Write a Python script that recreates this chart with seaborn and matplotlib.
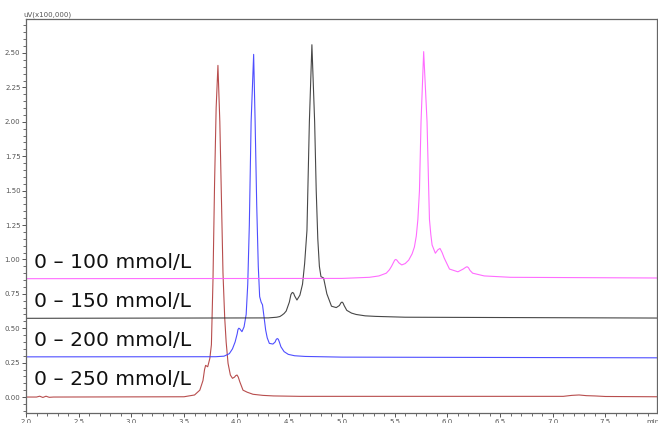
import matplotlib
matplotlib.use("Agg")
import matplotlib.pyplot as plt
import seaborn as sns
import pandas as pd
from matplotlib.ticker import MultipleLocator

# retention time (min) / signal (uV x100,000)
t_250 = [2.00, 2.10, 2.13, 2.16, 2.19, 2.22, 2.26, 3.50, 3.60, 3.65, 3.68, 3.695, 3.705,
         3.715, 3.725, 3.745, 3.76, 3.775, 3.79, 3.805, 3.822, 3.84, 3.855, 3.87, 3.886,
         3.90, 3.918, 3.94, 3.96, 3.98, 3.99, 4.003, 4.015, 4.03, 4.06, 4.10, 4.155, 4.25,
         4.35, 4.60, 7.10, 7.18, 7.25, 7.32, 7.40, 7.50, 7.99]
s_250 = [0.000, 0.000, 0.006, -0.003, 0.006, -0.002, 0.000, 0.002, 0.015, 0.05, 0.12, 0.20,
         0.23, 0.225, 0.22, 0.28, 0.38, 0.85, 1.55, 2.10, 2.41, 2.00, 1.45, 0.90, 0.58,
         0.40, 0.245, 0.16, 0.136, 0.145, 0.155, 0.16, 0.145, 0.11, 0.05, 0.035, 0.02,
         0.012, 0.008, 0.005, 0.005, 0.012, 0.015, 0.010, 0.008, 0.004, 0.002]

t_200 = [2.00, 3.80, 3.88, 3.93, 3.96, 3.985, 4.005, 4.012, 4.02, 4.028, 4.035, 4.05, 4.07,
         4.09, 4.105, 4.12, 4.137, 4.161, 4.175, 4.19, 4.205, 4.218, 4.232, 4.245, 4.26,
         4.275, 4.29, 4.31, 4.344, 4.365, 4.375, 4.385, 4.395, 4.405, 4.42, 4.45, 4.49,
         4.55, 4.65, 5.00, 7.99]
s_200 = [0.292, 0.293, 0.297, 0.315, 0.35, 0.40, 0.46, 0.49, 0.50, 0.497, 0.49, 0.475, 0.51,
         0.60, 0.82, 1.25, 2.00, 2.49, 2.00, 1.40, 0.95, 0.73, 0.69, 0.67, 0.58, 0.487,
         0.43, 0.39, 0.385, 0.40, 0.418, 0.425, 0.42, 0.40, 0.365, 0.33, 0.31, 0.30,
         0.295, 0.29, 0.285]

t_150 = [2.00, 4.30, 4.38, 4.41, 4.43, 4.45, 4.47, 4.50, 4.515, 4.528, 4.54, 4.55, 4.572,
         4.60, 4.625, 4.645, 4.667, 4.69, 4.714, 4.74, 4.755, 4.77, 4.785, 4.80, 4.825,
         4.856, 4.90, 4.945, 4.975, 4.99, 5.00, 5.01, 5.02, 5.045, 5.09, 5.134, 5.22,
         5.32, 5.60, 7.99]
s_150 = [0.572, 0.575, 0.58, 0.585, 0.595, 0.607, 0.625, 0.69, 0.745, 0.76, 0.755, 0.735,
         0.705, 0.74, 0.82, 0.97, 1.21, 2.00, 2.56, 2.00, 1.50, 1.15, 0.95, 0.875, 0.865,
         0.75, 0.66, 0.65, 0.665, 0.685, 0.69, 0.683, 0.665, 0.63, 0.61, 0.60, 0.59,
         0.586, 0.58, 0.574]

t_100 = [2.00, 5.00, 5.26, 5.35, 5.42, 5.45, 5.47, 5.50, 5.51, 5.52, 5.54, 5.567, 5.60,
         5.633, 5.665, 5.687, 5.705, 5.72, 5.735, 5.75, 5.775, 5.807, 5.823, 5.83, 5.843,
         5.855, 5.886, 5.91, 5.93, 5.95, 5.97, 6.02, 6.10, 6.15, 6.175, 6.187, 6.20,
         6.215, 6.24, 6.35, 6.60, 7.99]
s_100 = [0.860, 0.862, 0.87, 0.88, 0.90, 0.925, 0.95, 0.995, 1.00, 0.995, 0.975, 0.96,
         0.97, 0.995, 1.04, 1.09, 1.17, 1.29, 1.50, 2.00, 2.51, 2.00, 1.50, 1.29, 1.18,
         1.105, 1.045, 1.07, 1.08, 1.05, 1.01, 0.93, 0.91, 0.93, 0.943, 0.947, 0.94,
         0.92, 0.90, 0.88, 0.87, 0.865]

labels = ["0 – 250 mmol/L", "0 – 200 mmol/L", "0 – 150 mmol/L", "0 – 100 mmol/L"]
colors = ["#b03a3a", "#3b3bff", "#333333", "#ff5cff"]
label_y = [0.087, 0.371, 0.656, 0.940]

sns.set_style("white")
plt.rcParams['font.family'] = ['DejaVu Sans']

fig = plt.figure(figsize=(6.58, 4.23), dpi=100)
ax = fig.add_axes([26 / 658, 1 - 413 / 423, 631 / 658, 394 / 423])

traces = [(t_250, s_250), (t_200, s_200), (t_150, s_150), (t_100, s_100)]
for (t, s), lab, c in zip(traces, labels, colors):
    df = pd.DataFrame({"t": t, "s": s})
    sns.lineplot(data=df, x="t", y="s", ax=ax, color=c, linewidth=0.8,
                 estimator=None, sort=False, alpha=0.9)

for lab, yy in zip(labels, label_y):
    ax.text(2.073, yy, lab, fontsize=14.6, color="#111111", va="baseline", ha="left")

ax.set_xlim(2.0, 7.99)
ax.set_ylim(-0.116, 2.747)
ax.set_xlabel("")
ax.set_ylabel("")
ax.xaxis.set_major_locator(MultipleLocator(0.5))
ax.xaxis.set_minor_locator(MultipleLocator(0.1))
ax.yaxis.set_major_locator(MultipleLocator(0.25))
ax.yaxis.set_minor_locator(MultipleLocator(0.05))
ax.xaxis.set_major_formatter(plt.FuncFormatter(lambda v, p: f"{v:.1f}"))
ax.yaxis.set_major_formatter(plt.FuncFormatter(lambda v, p: f"{v:.2f}"))
ax.tick_params(which="major", direction="out", length=3, width=0.7, color="#555555",
               labelsize=5, labelcolor="#555555", pad=1)
ax.tick_params(which="minor", direction="out", length=2, width=0.6, color="#555555")
ax.tick_params(axis="x", which="both", bottom=True)
ax.tick_params(axis="y", which="both", left=True)
for sp in ax.spines.values():
    sp.set_color("#666666")
    sp.set_linewidth(0.9)

fig.text(23 / 658, 1 - 18 / 423, "uV(x100,000)", fontsize=5, color="#555555",
         ha="left", va="bottom")
fig.text(646 / 658, 1 - 419 / 423, "min", fontsize=5, color="#555555",
         ha="left", va="top")

fig.savefig("out.png", dpi=100)
